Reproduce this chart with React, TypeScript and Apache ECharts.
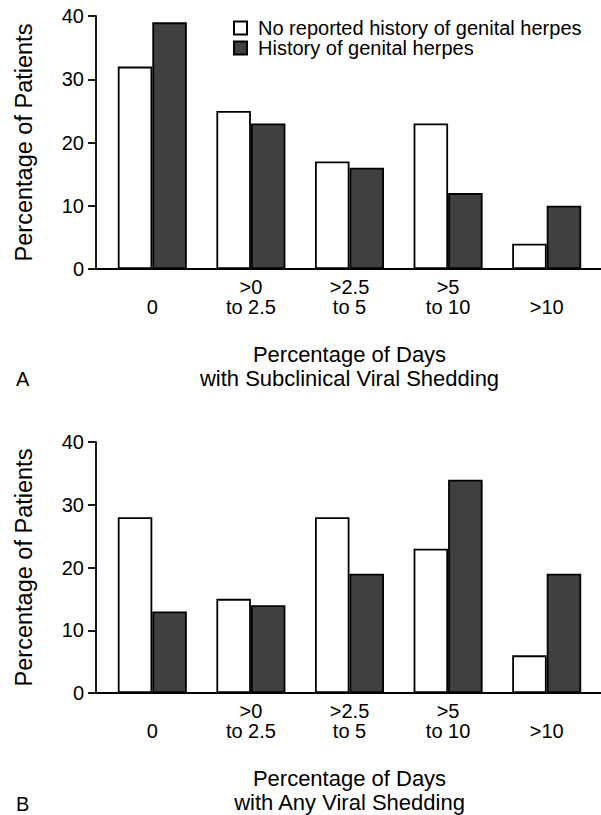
import React, { useEffect, useRef } from "react";
import * as echarts from "echarts";

const categories = ["\n0", ">0\nto 2.5", ">2.5\nto 5", ">5\nto 10", "\n>10"];
const seriesNames = ["No reported history of genital herpes", "History of genital herpes"];
const noHistoryA = [32, 25, 17, 23, 4];
const historyA = [39, 23, 16, 12, 10];
const noHistoryB = [28, 15, 28, 23, 6];
const historyB = [13, 14, 19, 34, 19];
const xTitles = ["Percentage of Days\nwith Subclinical Viral Shedding", "Percentage of Days\nwith Any Viral Shedding"];
const yTitle = "Percentage of Patients";
const panelLabels = ["A", "B"];

const FONT = "'Liberation Sans', Arial, Helvetica, sans-serif";
const DARK = "#404040";

export default function App() {
  const ref = useRef<HTMLDivElement>(null);
  useEffect(() => {
    document.body.style.margin = "0";
    const chart = echarts.init(ref.current!, null, { renderer: "svg" });
    const grids = [
      { left: 103, right: 5, top: 16, height: 253 },
      { left: 103, right: 5, top: 442, height: 252 },
    ];
    const mkX = (i: number) => ({
      type: "category",
      gridIndex: i,
      data: categories,
      axisLine: { show: false },
      axisTick: { show: false },
      axisLabel: {
        color: "#000",
        fontFamily: FONT,
        fontSize: 20,
        lineHeight: 20,
        margin: 8,
        interval: 0,
      },
      name: xTitles[i],
      nameLocation: "middle",
      nameGap: 73,
      nameTextStyle: { color: "#000", fontFamily: FONT, fontSize: 22, lineHeight: 24 },
    });
    const mkY = (i: number) => ({
      type: "value",
      gridIndex: i,
      min: 0,
      max: 40,
      interval: 10,
      offset: 7,
      splitLine: { show: false },
      axisLine: { show: true, lineStyle: { color: "#000", width: 1.8 } },
      axisTick: { show: true, length: 8, lineStyle: { color: "#000", width: 1.8 } },
      axisLabel: { color: "#000", fontFamily: FONT, fontSize: 20, margin: 12 },
      name: yTitle,
      nameLocation: "middle",
      nameGap: 60,
      nameTextStyle: { color: "#000", fontFamily: FONT, fontSize: 23.5 },
    });
    const white = { color: "#fff", borderColor: "#000", borderWidth: 1.8 };
    const dark = { color: DARK, borderColor: "#000", borderWidth: 1.8 };
    const mkBar = (name: string, data: number[], i: number, style: any) => ({
      type: "bar",
      name,
      data,
      xAxisIndex: i,
      yAxisIndex: i,
      barGap: "0%",
      barCategoryGap: "30%",
      itemStyle: style,
    });
    chart.setOption({
      animation: false,
      grid: grids,
      xAxis: [mkX(0), mkX(1)],
      yAxis: [mkY(0), mkY(1)],
      legend: {
        data: seriesNames,
        orient: "vertical",
        left: 233,
        top: 18,
        padding: 0,
        itemWidth: 13,
        itemHeight: 13,
        itemGap: 0,
        icon: "rect",
        selectedMode: false,
        textStyle: { color: "#000", fontFamily: FONT, fontSize: 20, lineHeight: 19, padding: [0, 0, 0, 6] },
      },
      series: [
        mkBar(seriesNames[0], noHistoryA, 0, white),
        mkBar(seriesNames[1], historyA, 0, dark),
        mkBar(seriesNames[0], noHistoryB, 1, white),
        mkBar(seriesNames[1], historyB, 1, dark),
      ],
    });
    const y0a = chart.convertToPixel({ yAxisIndex: 0 }, 0) as number;
    const y0b = chart.convertToPixel({ yAxisIndex: 1 }, 0) as number;
    chart.setOption({
      graphic: [
        { type: "line", shape: { x1: 96, y1: y0a, x2: 601, y2: y0a }, style: { stroke: "#000", lineWidth: 1.8 } },
        { type: "line", shape: { x1: 96, y1: y0b, x2: 601, y2: y0b }, style: { stroke: "#000", lineWidth: 1.8 } },
        { type: "text", left: 16, top: y0a + 100, style: { text: panelLabels[0], fill: "#000", font: `20px ${FONT}` } },
        { type: "text", left: 16, top: y0b + 101, style: { text: panelLabels[1], fill: "#000", font: `20px ${FONT}` } },
      ],
    });
    return () => chart.dispose();
  }, []);
  return <div ref={ref} style={{ width: 601, height: 815 }} />;
}
